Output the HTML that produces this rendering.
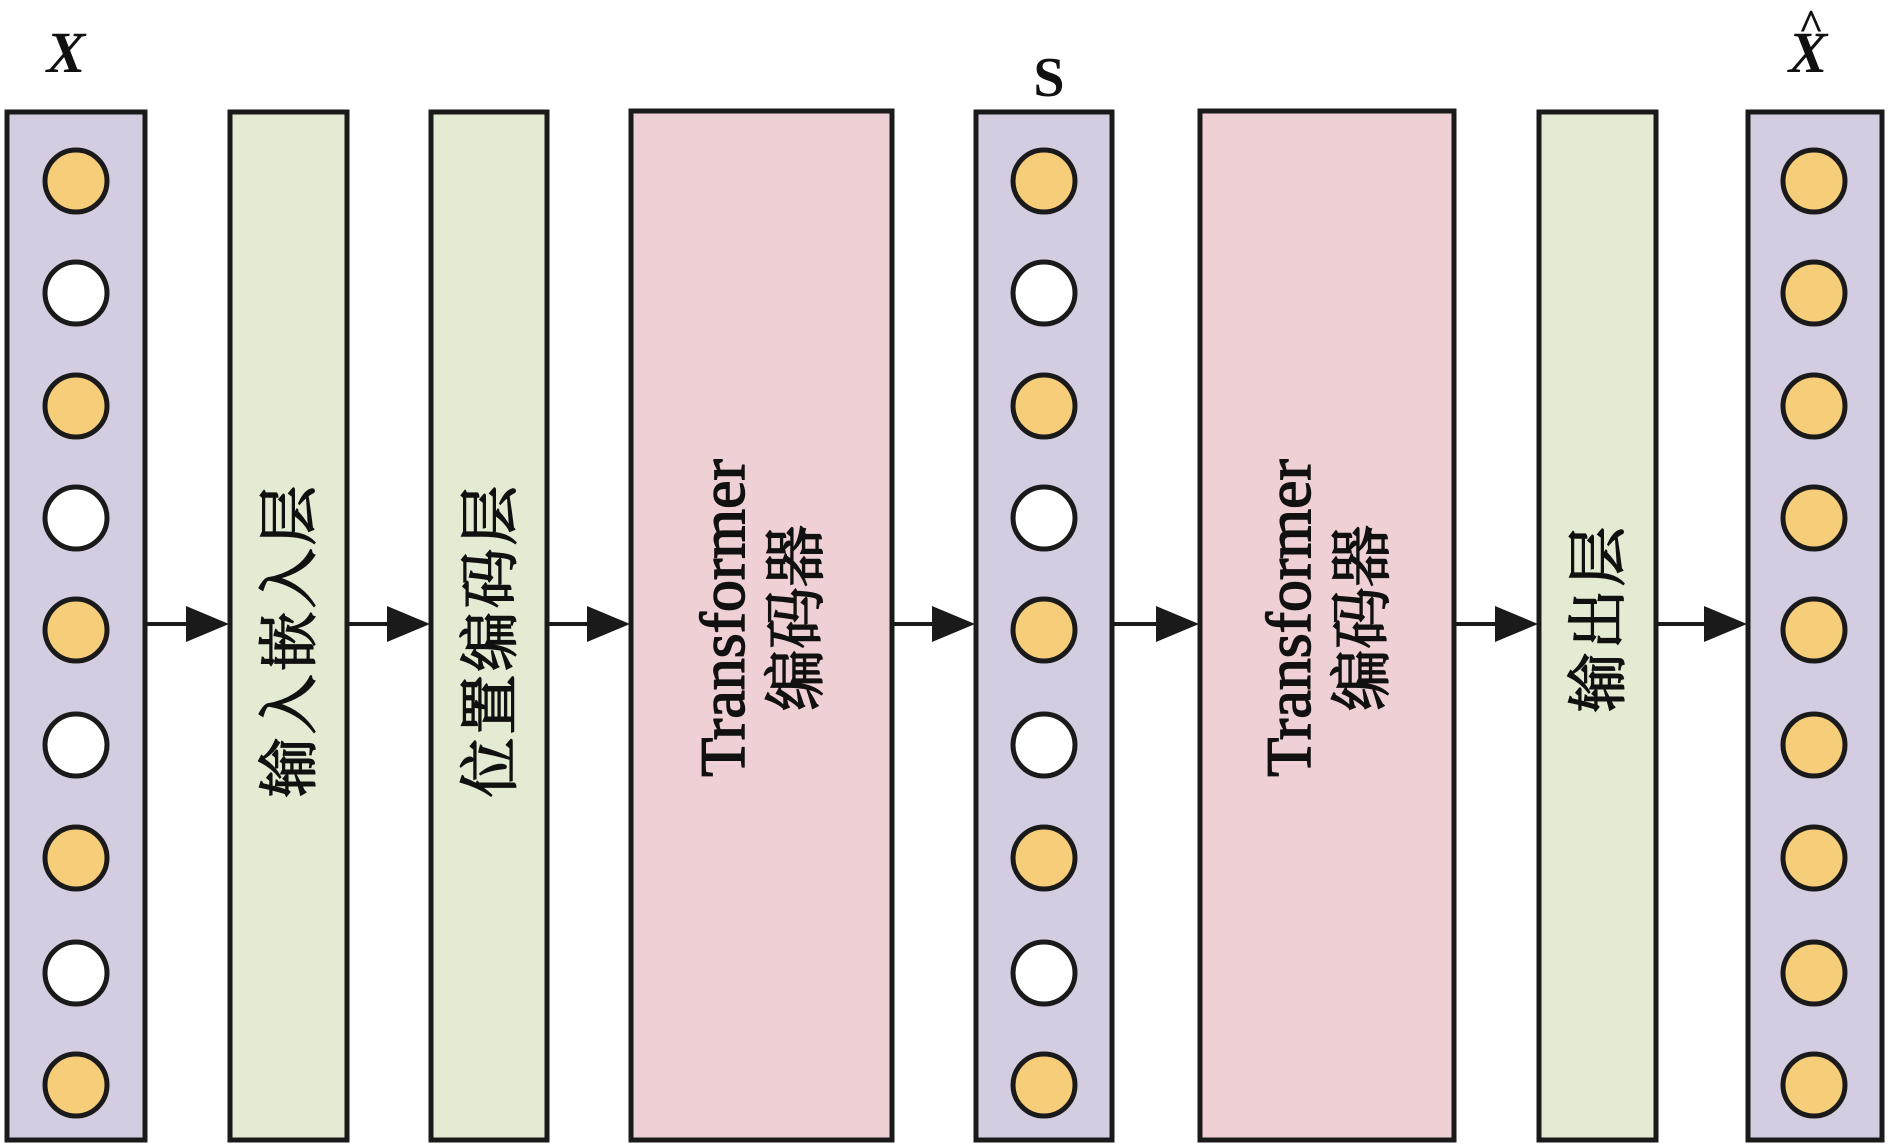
<!DOCTYPE html>
<html><head><meta charset="utf-8"><style>
html,body{margin:0;padding:0;background:#fff;}
svg{display:block;}
</style></head><body>
<svg width="1890" height="1144" viewBox="0 0 1890 1144" xmlns="http://www.w3.org/2000/svg">
<g stroke="#1a1a1a" stroke-width="5">
<rect x="7" y="112" width="138" height="1028" fill="#d4cde1"/>
<rect x="230" y="112" width="117" height="1028" fill="#e4ebd3"/>
<rect x="431" y="112" width="116" height="1028" fill="#e4ebd3"/>
<rect x="631" y="111" width="261" height="1029" fill="#efd0d4"/>
<rect x="976" y="112" width="136" height="1028" fill="#d4cde1"/>
<rect x="1200" y="111" width="254" height="1029" fill="#efd0d4"/>
<rect x="1539" y="112" width="117" height="1028" fill="#e4ebd3"/>
<rect x="1748" y="112" width="134" height="1028" fill="#d4cde1"/>
</g>
<g stroke="#1a1a1a" stroke-width="5">
<circle cx="76" cy="181" r="31" fill="#f6cd79"/>
<circle cx="76" cy="293" r="31" fill="#fff"/>
<circle cx="76" cy="406" r="31" fill="#f6cd79"/>
<circle cx="76" cy="518" r="31" fill="#fff"/>
<circle cx="76" cy="630" r="31" fill="#f6cd79"/>
<circle cx="76" cy="745" r="31" fill="#fff"/>
<circle cx="76" cy="858" r="31" fill="#f6cd79"/>
<circle cx="76" cy="973" r="31" fill="#fff"/>
<circle cx="76" cy="1085" r="31" fill="#f6cd79"/>
<circle cx="1044" cy="181" r="31" fill="#f6cd79"/>
<circle cx="1044" cy="293" r="31" fill="#fff"/>
<circle cx="1044" cy="406" r="31" fill="#f6cd79"/>
<circle cx="1044" cy="518" r="31" fill="#fff"/>
<circle cx="1044" cy="630" r="31" fill="#f6cd79"/>
<circle cx="1044" cy="745" r="31" fill="#fff"/>
<circle cx="1044" cy="858" r="31" fill="#f6cd79"/>
<circle cx="1044" cy="973" r="31" fill="#fff"/>
<circle cx="1044" cy="1085" r="31" fill="#f6cd79"/>
<circle cx="1814" cy="181" r="31" fill="#f6cd79"/>
<circle cx="1814" cy="293" r="31" fill="#f6cd79"/>
<circle cx="1814" cy="406" r="31" fill="#f6cd79"/>
<circle cx="1814" cy="518" r="31" fill="#f6cd79"/>
<circle cx="1814" cy="630" r="31" fill="#f6cd79"/>
<circle cx="1814" cy="745" r="31" fill="#f6cd79"/>
<circle cx="1814" cy="858" r="31" fill="#f6cd79"/>
<circle cx="1814" cy="973" r="31" fill="#f6cd79"/>
<circle cx="1814" cy="1085" r="31" fill="#f6cd79"/>
</g>
<g stroke="#1a1a1a" stroke-width="4">
<line x1="145" y1="624" x2="195" y2="624"/>
<line x1="347" y1="624" x2="396" y2="624"/>
<line x1="547" y1="624" x2="596" y2="624"/>
<line x1="892" y1="624" x2="941" y2="624"/>
<line x1="1112" y1="624" x2="1165" y2="624"/>
<line x1="1454" y1="624" x2="1504" y2="624"/>
<line x1="1656" y1="624" x2="1713" y2="624"/>
</g>
<g fill="#1a1a1a">
<polygon points="186,606 229,624 186,642"/>
<polygon points="387,606 430,624 387,642"/>
<polygon points="587,606 630,624 587,642"/>
<polygon points="932,606 975,624 932,642"/>
<polygon points="1156,606 1199,624 1156,642"/>
<polygon points="1495,606 1538,624 1495,642"/>
<polygon points="1704,606 1747,624 1704,642"/>
</g>
<g font-family="'Liberation Serif','Noto Serif CJK SC',serif" fill="#111">
<text x="66" y="72" font-size="58" font-style="italic" font-weight="bold" text-anchor="middle">X</text>
<text x="1049" y="96" font-size="56" font-weight="bold" text-anchor="middle">S</text>
<text x="1808" y="72" font-size="58" font-style="italic" font-weight="bold" text-anchor="middle">X</text>
<text x="1811" y="40" font-size="44" font-weight="bold" text-anchor="middle">^</text>
</g>
<g font-family="'Liberation Serif','Noto Serif CJK SC',serif" fill="#111" stroke="#111" stroke-width="1.5" font-size="60" text-anchor="middle">
<text transform="translate(310,640) rotate(-90)" letter-spacing="3">输入嵌入层</text>
<text transform="translate(511,640) rotate(-90)" letter-spacing="3">位置编码层</text>
<text transform="translate(744,618) rotate(-90)" font-size="64">Transformer</text>
<text transform="translate(817,618) rotate(-90)" font-size="62">编码器</text>
<text transform="translate(1310,618) rotate(-90)" font-size="64">Transformer</text>
<text transform="translate(1383,618) rotate(-90)" font-size="62">编码器</text>
<text transform="translate(1619,618) rotate(-90)" letter-spacing="3">输出层</text>
</g>
</svg>
</body></html>
